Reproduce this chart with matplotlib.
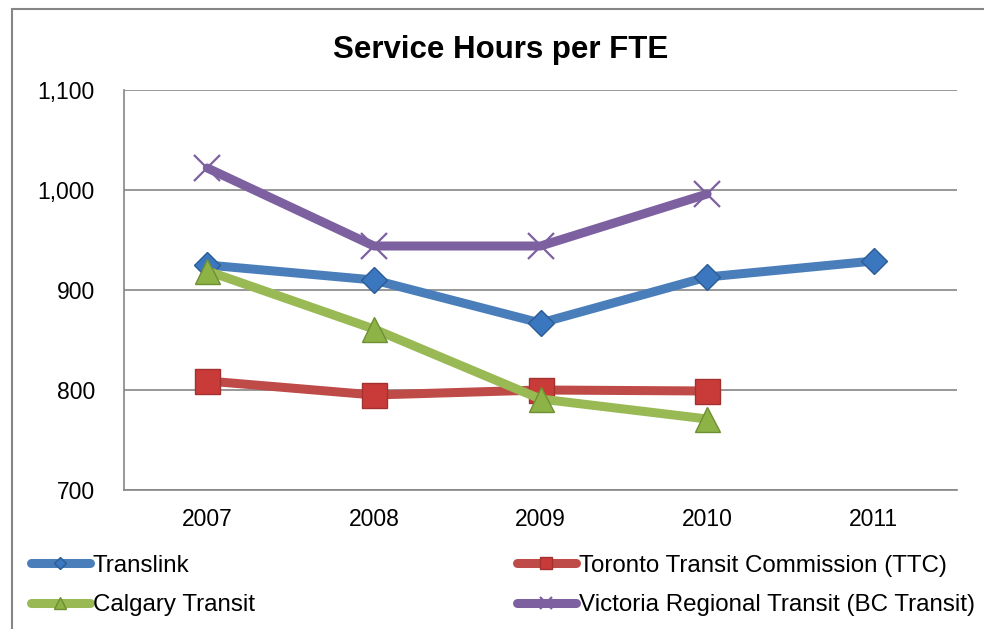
import matplotlib
matplotlib.use('Agg')
import matplotlib.pyplot as plt
from matplotlib.patches import Rectangle
from matplotlib.ticker import FuncFormatter

plt.rcParams['font.family'] = ['Liberation Sans', 'DejaVu Sans']

# Data
years = ['2007', '2008', '2009', '2010', '2011']
translink = [925, 910, 867, 913, 929]
ttc = [809, 795, 800, 799]
calgary = [919, 861, 791, 771]
victoria = [1022, 944, 944, 996]

fig = plt.figure(figsize=(9.84, 6.29), dpi=100)
ax = fig.add_axes([0.126, 0.221, 0.8466, 0.6359])

x5 = list(range(len(years)))
x4 = x5[:4]

lw = 6.5
style = dict(lw=lw, solid_capstyle='round', solid_joinstyle='round')
l1, = ax.plot(x5, translink, color='#4A7EBB', marker='D', ms=13.5,
              mfc='#3B77BF', mec='#2C5C94', mew=1, label='Translink', zorder=4, **style)
l2, = ax.plot(x4, ttc, color='#BE4B48', marker='s', ms=18,
              mfc='#C83B38', mec='#A23230', mew=1,
              label='Toronto Transit Commission (TTC)', zorder=3, **style)
l3, = ax.plot(x4, calgary, color='#98B954', marker='^', ms=18,
              mfc='#8DB347', mec='#6F8F33', mew=1, label='Calgary Transit', zorder=5, **style)
l4, = ax.plot(x4, victoria, color='#7D60A0', marker='x', ms=19,
              mew=1.6, mec='#7D60A0', label='Victoria Regional Transit (BC Transit)',
              zorder=4, **style)

ax.set_xlim(-0.5, 4.5)
ax.set_ylim(700, 1100)
ax.set_yticks([700, 800, 900, 1000, 1100])
ax.yaxis.set_major_formatter(FuncFormatter(lambda v, p: '{:,.0f}'.format(v)))
ax.set_xticks(x5)
ax.set_xticklabels(years)
ax.tick_params(length=0, labelsize=16.5)
ax.tick_params(axis='y', pad=21)
ax.tick_params(axis='x', pad=13)

ax.grid(axis='y', color='#868686', lw=1.2)
ax.set_axisbelow(True)
for s in ['top', 'right']:
    ax.spines[s].set_visible(False)
for s in ['left', 'bottom']:
    ax.spines[s].set_color('#868686')
    ax.spines[s].set_linewidth(1.2)

fig.text(0.509, 0.921, 'Service Hours per FTE', ha='center', va='center',
         fontsize=22.5, fontweight='bold')

# legend, two columns (matplotlib fills columns first)
fig.legend([l1, l3, l2, l4],
           [l1.get_label(), l3.get_label(), l2.get_label(), l4.get_label()],
           ncol=2, loc='upper left', bbox_to_anchor=(0.0092, 0.153),
           frameon=False, fontsize=17.4, handlelength=2.44, handletextpad=0.12,
           columnspacing=10.85, labelspacing=0.74, markerscale=0.45)

# chart border
fig.patches.append(Rectangle((12 / 984, -0.1), 1.0, 1 - 9 / 629 + 0.1,
                             transform=fig.transFigure, fill=False,
                             edgecolor='#868686', lw=1.5))

fig.savefig('out.png', dpi=100)
